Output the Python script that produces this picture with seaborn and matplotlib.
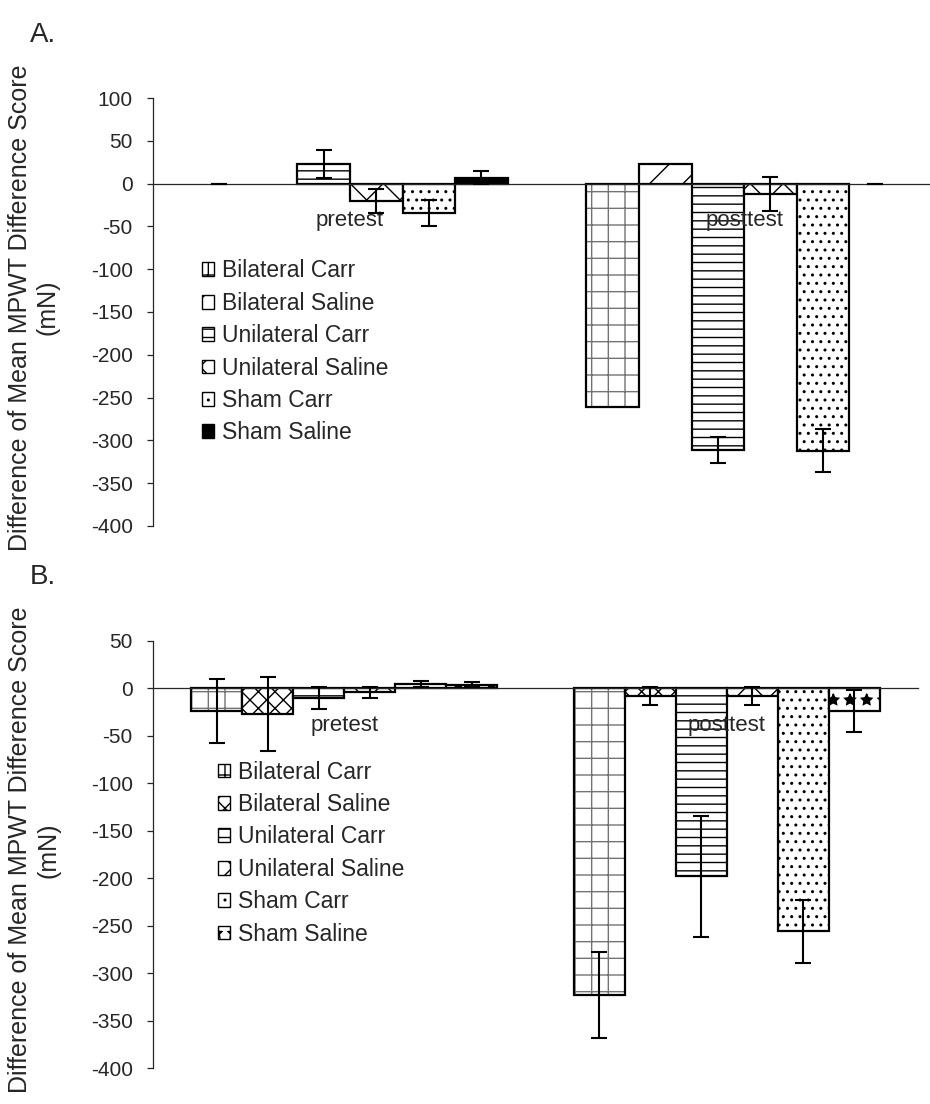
import numpy as np
import pandas as pd
import matplotlib.pyplot as plt
import matplotlib.patches as mpatches
import matplotlib.colors as mcolors
import seaborn as sns

phases = ['pretest', 'posttest']
groups = ['Bilateral Carr', 'Bilateral Saline', 'Unilateral Carr',
          'Unilateral Saline', 'Sham Carr', 'Sham Saline']

# panel A - mean MPWT difference (mN), one value per group
a_pre = [0, 0, 23, -20, -34, 7]
a_post = [-261, 23, -311, -12, -312, 0]
a_pre_err = [0, np.nan, 16, 14, 15, 8]
a_post_err = [np.nan, np.nan, 15, 20, 25, 0]

# panel B
b_pre = [-24, -27, -10, -4, 5, 4]
b_post = [-323, -8, -198, -8, -256, -24]
b_pre_err = [34, 39, 12, 6, 3, 3]
b_post_err = [45, 9, 64, 9, 33, 22]

a_ticks = list(range(-400, 101, 50))
b_ticks = list(range(-400, 51, 50))

# fill patterns per group
hatches_a = ['+', '/', '--', 'x', '..', '']
hatches_b = ['+', 'xx', '--', 'x', '..', '*']
faces_a = ['white'] * 5 + ['black']
faces_b = ['white'] * 6

sns.set_style('white')
plt.rcParams['font.family'] = ['Liberation Sans', 'DejaVu Sans']
plt.rcParams['axes.unicode_minus'] = False
plt.rcParams['hatch.linewidth'] = 1.0

fig = plt.figure(figsize=(9.3, 11.04), dpi=100)
ax_a = fig.add_axes([0.1645, 0.5236, 1.012 - 0.1645, 0.9112 - 0.5236])
ax_b = fig.add_axes([0.1645, 0.0326, 0.987 - 0.1645, 0.4194 - 0.0326])


def draw_panel(ax, pre, post, pre_err, post_err, hatches, faces, ticks, label_x):
    df = pd.DataFrame({
        'phase': np.repeat(phases, len(groups)),
        'group': groups * 2,
        'value': pre + post,
    })
    sns.barplot(data=df, x='phase', y='value', hue='group', order=phases,
                hue_order=groups, palette=faces, errorbar=None, width=0.8,
                saturation=1, legend=False, ax=ax,
                edgecolor='black', linewidth=1.6)

    for cont, h, e_pre, e_post in zip(ax.containers, hatches, pre_err, post_err):
        for bar, err in zip(cont.patches, [e_pre, e_post]):
            bar.set_hatch(h)
            if h == '+':
                bar._hatch_color = mcolors.to_rgba('0.45')
            if bar.get_height() == 0:
                bar.set_linewidth(0)
            x = bar.get_x() + bar.get_width() / 2
            y = bar.get_y() + bar.get_height()
            ax.errorbar(x, y, yerr=err, color='black', elinewidth=1.5,
                        capsize=6, capthick=1.5, zorder=3)

    # tick labels sit on top of the bars like in the original
    ax.set_axisbelow(False)
    ax.set_xlim(-0.5, 1.5)
    ax.set_ylim(ticks[0], ticks[-1])
    ax.set_yticks(ticks)
    ax.set_yticklabels([str(t) for t in ticks])

    for s in ['top', 'right']:
        ax.spines[s].set_visible(False)
    ax.spines['bottom'].set_position(('data', 0))
    ax.spines['bottom'].set_linewidth(0.9)
    ax.spines['left'].set_linewidth(0.9)
    ax.spines['bottom'].set_color('0.15')
    ax.spines['left'].set_color('0.15')

    ax.set_xticks([0.5, 1.5], minor=True)
    ax.tick_params(axis='x', which='minor', length=5, width=0.9,
                   direction='out', color='0.15')
    ax.tick_params(axis='x', which='major', length=0, pad=19, labelsize=16)
    ax.tick_params(axis='y', length=4.5, width=0.9, direction='out',
                   pad=10, labelsize=15, color='0.15', left=True)

    ax.set_xlabel('')
    ax.set_ylabel('Difference of Mean MPWT Difference Score\n(mN)',
                  fontsize=18, linespacing=1.22)
    ax.yaxis.set_label_coords(label_x, 0.51)

    handles = [mpatches.Patch(facecolor=f, edgecolor='black', hatch=h,
                              linewidth=1.0, label=g)
               for f, h, g in zip(faces, hatches, groups)]
    return handles


h_a = draw_panel(ax_a, a_pre, a_post, a_pre_err, a_post_err,
                 hatches_a, faces_a, a_ticks, -0.118)
h_b = draw_panel(ax_b, b_pre, b_post, b_pre_err, b_post_err,
                 hatches_b, faces_b, b_ticks, -0.121)

leg_kw = dict(loc='upper left', bbox_transform=fig.transFigure, frameon=False,
              fontsize=16.5, handlelength=0.55, handleheight=0.55,
              handletextpad=0.35, labelspacing=0.41, borderpad=0,
              borderaxespad=0)
ax_a.legend(handles=h_a, bbox_to_anchor=(0.217, 0.765), **leg_kw)
ax_b.legend(handles=h_b, bbox_to_anchor=(0.234, 0.311), **leg_kw)

fig.text(30 / 930, 1 - 35 / 1104, 'A.', fontsize=20, va='center', ha='left')
fig.text(30 / 930, 1 - 577 / 1104, 'B.', fontsize=20, va='center', ha='left')

fig.savefig('out.png', dpi=100)
